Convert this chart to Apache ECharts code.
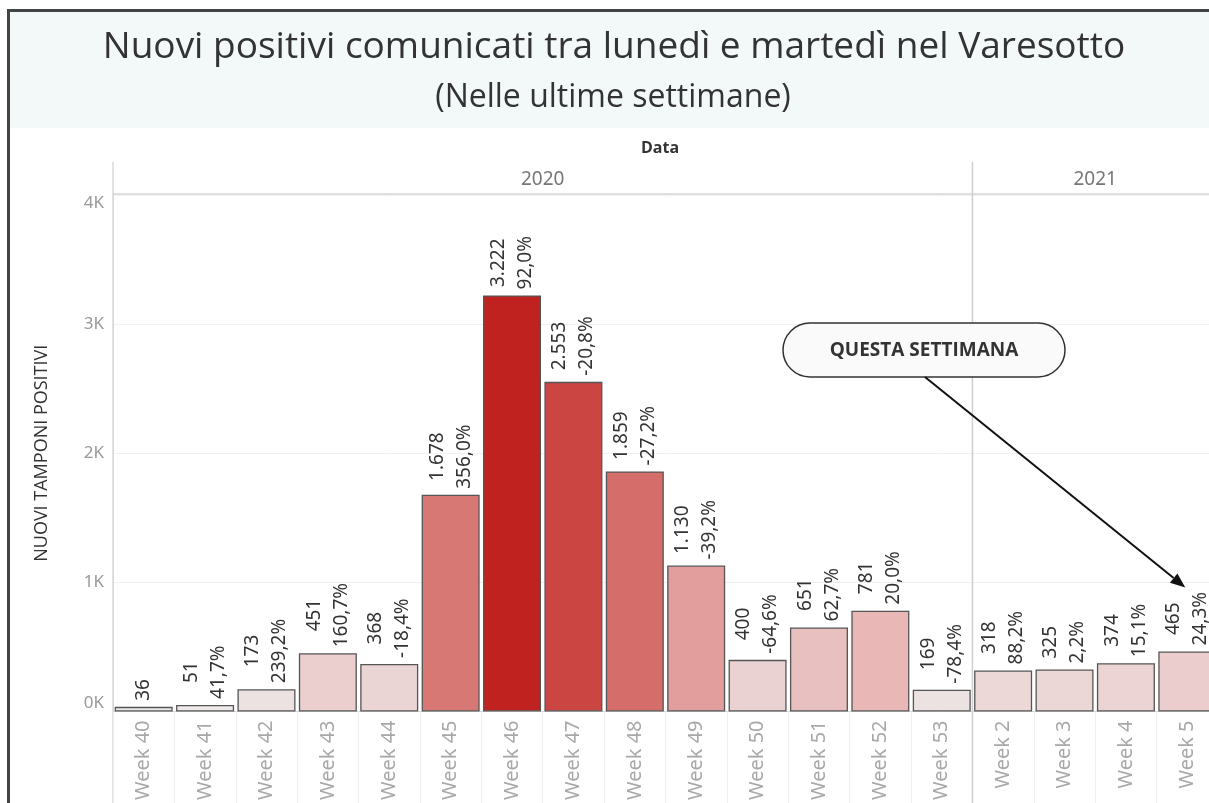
<!DOCTYPE html>
<html>
<head>
<meta charset="utf-8">
<script src="https://cdn.jsdelivr.net/npm/echarts@6/dist/echarts.min.js"></script>
<style>
  html, body { margin: 0; padding: 0; background: #fff; overflow: hidden; }
  #chart { width: 1222px; height: 803px; }
</style>
</head>
<body>
<div id="chart"></div>
<script>
// weeks per year pane
var weeks2020 = ['Week 40', 'Week 41', 'Week 42', 'Week 43', 'Week 44', 'Week 45', 'Week 46',
    'Week 47', 'Week 48', 'Week 49', 'Week 50', 'Week 51', 'Week 52', 'Week 53'];
var weeks2021 = ['Week 2', 'Week 3', 'Week 4', 'Week 5'];
var years = ['2020', '2021'];

// new positives (monday-tuesday)
var positivi = [36, 51, 173, 451, 368, 1678, 3222, 2553, 1859, 1130, 400, 651, 781, 169,
    318, 325, 374, 465];
// change on previous week
var variazione = ['', '41,7%', '239,2%', '160,7%', '-18,4%', '356,0%', '92,0%', '-20,8%',
    '-27,2%', '-39,2%', '-64,6%', '62,7%', '20,0%', '-78,4%', '88,2%', '2,2%', '15,1%', '24,3%'];

var yTicks = [0, 1000, 2000, 3000, 4000];

var weeks = weeks2020.concat(weeks2021);

var labelFont = '19px "Noto Sans"';

function fmtNum(v) {
    return String(v).replace(/\B(?=(\d{3})+(?!\d))/g, '.');
}

// label lines are centred on each other, so push the block up by half its length
var ctx = document.createElement('canvas').getContext('2d');
ctx.font = labelFont;
function textW(s) { return s ? ctx.measureText(s).width : 0; }

var barData = positivi.map(function (v, i) {
    var w = Math.max(textW(fmtNum(v)), textW(variazione[i]));
    return {
        value: [weeks[i], v],
        label: {distance: 6 + w / 2}
    };
});

var chart = echarts.init(document.getElementById('chart'));

var option = {
    backgroundColor: '#fff',
    animation: false,
    grid: {
        left: 113,
        top: 195,
        width: 1105,
        height: 517,
        containLabel: false
    },
    visualMap: {
        show: false,
        type: 'continuous',
        min: 0,
        max: 3200,
        dimension: 1,
        inRange: {
            color: ['#eeeeee', '#e8b6b5', '#d97d7a', '#cd4d4a', '#c0221f']
        }
    },
    xAxis: {
        type: 'category',
        data: weeks,
        axisLine: {lineStyle: {color: '#d4d4d4'}},
        axisTick: {show: true, length: 92, interval: 0, lineStyle: {color: '#efefef'}},
        axisLabel: {
            rotate: 90,
            interval: 0,
            margin: 9,
            fontFamily: 'Noto Sans',
            fontSize: 20,
            color: '#a8a8a8'
        }
    },
    yAxis: {
        type: 'value',
        min: yTicks[0],
        max: yTicks[yTicks.length - 1],
        interval: 1000,
        name: 'NUOVI TAMPONI POSITIVI',
        nameLocation: 'middle',
        nameRotate: 90,
        nameGap: 62,
        nameTextStyle: {fontFamily: 'Open Sans', fontSize: 18, color: '#333'},
        axisLine: {show: true, lineStyle: {color: '#d8d8d8'}},
        axisTick: {show: false},
        splitLine: {lineStyle: {color: '#f0f0f0'}},
        axisLabel: {
            margin: 9,
            fontFamily: 'Noto Sans',
            fontSize: 17,
            color: '#999',
            verticalAlignMinLabel: 'bottom',
            verticalAlignMaxLabel: 'top',
            formatter: function (v) { return (v / 1000) + 'K'; }
        }
    },
    series: [{
        type: 'bar',
        data: barData,
        barCategoryGap: '5.5%',
        itemStyle: {borderColor: '#555', borderWidth: 1.3},
        label: {
            show: true,
            position: 'top',
            rotate: 90,
            align: 'center',
            verticalAlign: 'middle',
            fontFamily: 'Noto Sans',
            fontSize: 19,
            lineHeight: 27,
            color: '#333',
            formatter: function (p) {
                var pct = variazione[p.dataIndex];
                return fmtNum(p.value[1]) + (pct ? '\n' + pct : '');
            }
        }
    }]
};

chart.setOption(option);

// header, pane separators and annotation, placed from the axis scale
var x0 = chart.convertToPixel({xAxisIndex: 0}, weeks[0]);
var x1 = chart.convertToPixel({xAxisIndex: 0}, weeks[1]);
var step = x1 - x0;
var left = x0 - step / 2;
var split = chart.convertToPixel({xAxisIndex: 0}, weeks2021[0]) - step / 2;
var right = left + step * weeks.length;

var tip = [chart.convertToPixel({xAxisIndex: 0}, 'Week 5') - 2, chart.convertToPixel({yAxisIndex: 0}, 960)];
var tail = [925, 377];
var dx = tip[0] - tail[0], dy = tip[1] - tail[1];
var len = Math.sqrt(dx * dx + dy * dy);
var ux = dx / len, uy = dy / len;
var bx = tip[0] - ux * 15, by = tip[1] - uy * 15;

chart.setOption({
    graphic: [
        // title band and frame
        {type: 'rect', z: -10, shape: {x: 9, y: 11, width: 1215, height: 117}, style: {fill: '#f3f9f9'}},
        {type: 'polyline', z: 10, shape: {points: [[8.5, 810], [8.5, 10.5], [1222, 10.5]]},
            style: {stroke: '#444', lineWidth: 3, fill: null}},
        {type: 'text', x: 614, y: 47, style: {text: 'Nuovi positivi comunicati tra lunedì e martedì nel Varesotto',
            align: 'center', verticalAlign: 'middle', font: '37px "Open Sans"', fill: '#333'}},
        {type: 'text', x: 613, y: 98, style: {text: '(Nelle ultime settimane)',
            align: 'center', verticalAlign: 'middle', font: '32px "Open Sans"', fill: '#333'}},
        // header
        {type: 'text', x: 660, y: 148, style: {text: 'Data', align: 'center', verticalAlign: 'middle',
            font: 'bold 16px "Open Sans"', fill: '#333'}},
        {type: 'text', x: (left + split) / 2, y: 180, style: {text: years[0], align: 'center',
            verticalAlign: 'middle', font: '19px "Noto Sans"', fill: '#777'}},
        {type: 'text', x: (split + right) / 2, y: 180, style: {text: years[1], align: 'center',
            verticalAlign: 'middle', font: '19px "Noto Sans"', fill: '#777'}},
        {type: 'line', shape: {x1: left, y1: 194, x2: 1222, y2: 194}, style: {stroke: '#d4d4d4', lineWidth: 1.5}},
        {type: 'line', shape: {x1: left, y1: 162, x2: left, y2: 803}, style: {stroke: '#d8d8d8', lineWidth: 1.5}},
        {type: 'line', z: 5, shape: {x1: split, y1: 162, x2: split, y2: 803}, style: {stroke: '#cfcfcf', lineWidth: 1.5}},
        // annotation
        {type: 'rect', z: 20, shape: {x: 783, y: 323, width: 282, height: 54, r: 27},
            style: {fill: '#fafafa', stroke: '#333', lineWidth: 1.5}},
        {type: 'text', z: 21, x: 924, y: 351, style: {text: 'QUESTA SETTIMANA', align: 'center',
            verticalAlign: 'middle', font: 'bold 19px "Open Sans"', fill: '#333'}},
        {type: 'line', z: 20, shape: {x1: tail[0], y1: tail[1], x2: bx, y2: by}, style: {stroke: '#111', lineWidth: 2}},
        {type: 'polygon', z: 20, shape: {points: [tip, [bx - uy * 6, by + ux * 6], [bx + uy * 6, by - ux * 6]]},
            style: {fill: '#111'}}
    ]
});
</script>
</body>
</html>
